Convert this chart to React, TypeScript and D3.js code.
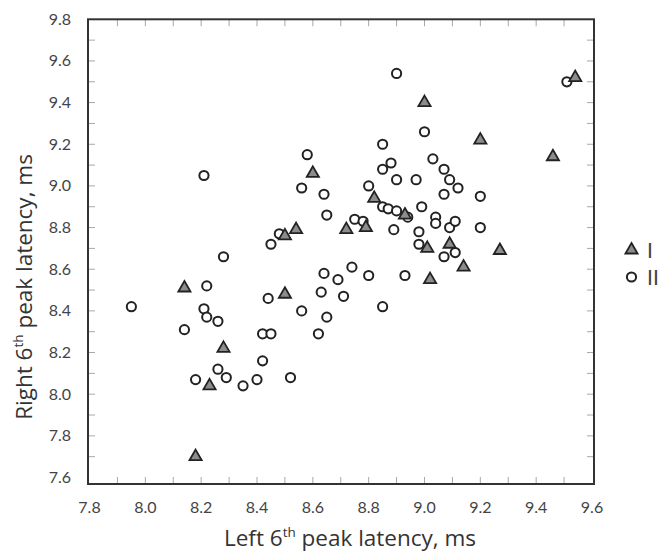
import React from "react";
import * as d3 from "d3";

const groupIX = [8.14, 8.28, 8.23, 8.18, 8.50, 8.50, 8.54, 8.60, 8.72, 8.79, 8.82, 8.93, 9.00, 9.01, 9.09, 9.02, 9.14, 9.27, 9.20, 9.46, 9.54];
const groupIY = [8.51, 8.22, 8.04, 7.70, 8.48, 8.76, 8.79, 9.06, 8.79, 8.80, 8.94, 8.86, 9.40, 8.70, 8.72, 8.55, 8.61, 8.69, 9.22, 9.14, 9.52];

const groupIIX = [7.95, 8.14, 8.22, 8.21, 8.22, 8.26, 8.26, 8.29, 8.18, 8.35, 8.40, 8.42, 8.42, 8.45, 8.44, 8.52, 8.56, 8.63, 8.62, 8.64, 8.65, 8.69, 8.74, 8.71, 8.80, 8.85, 8.93, 8.28, 8.45, 8.48, 8.21, 8.58, 8.56, 8.64, 8.65, 8.75, 8.78, 8.80, 8.85, 8.85, 8.88, 8.85, 8.87, 8.90, 8.90, 8.94, 8.89, 8.90, 8.97, 8.99, 9.00, 9.03, 9.07, 9.09, 9.12, 9.07, 9.20, 9.04, 9.04, 9.09, 9.11, 9.20, 8.98, 8.98, 9.11, 9.07, 9.51];
const groupIIY = [8.42, 8.31, 8.52, 8.41, 8.37, 8.35, 8.12, 8.08, 8.07, 8.04, 8.07, 8.16, 8.29, 8.29, 8.46, 8.08, 8.40, 8.49, 8.29, 8.58, 8.37, 8.55, 8.61, 8.47, 8.57, 8.42, 8.57, 8.66, 8.72, 8.77, 9.05, 9.15, 8.99, 8.96, 8.86, 8.84, 8.83, 9.00, 9.20, 9.08, 9.11, 8.90, 8.89, 8.88, 9.03, 8.85, 8.79, 9.54, 9.03, 8.90, 9.26, 9.13, 9.08, 9.03, 8.99, 8.96, 8.95, 8.85, 8.82, 8.80, 8.83, 8.80, 8.78, 8.72, 8.68, 8.66, 9.50];

const xTickLabels = ["7.8", "8.0", "8.2", "8.4", "8.6", "8.8", "9.0", "9.2", "9.4", "9.6"];
const yTickLabels = ["7.6", "7.8", "8.0", "8.2", "8.4", "8.6", "8.8", "9.0", "9.2", "9.4", "9.6", "9.8"];
const legendLabels = ["I", "II"];

const W = 659, H = 552;
const FONT = "Lato, 'Open Sans', sans-serif";
const TITLE_FONT = "'Open Sans', Lato, sans-serif";

export default function App() {
  const x = d3.scaleLinear().domain([7.8, 9.6]).range([89.5, 592]);
  const y = d3.scaleLinear().domain([7.6, 9.8]).range([477.5, 19.3]);
  const frame = { x0: 88, x1: 594, y0: 19.3, y1: 484 };

  const minorX = d3.range(79, 96).map((v) => v / 10);
  const minorY = d3.range(77, 98).map((v) => v / 10);

  const tri = d3.symbol().type(d3.symbolTriangle).size(64)();

  const ptsI = groupIX.map((v, i) => ({ x: v, y: groupIY[i] }));
  const ptsII = groupIIX.map((v, i) => ({ x: v, y: groupIIY[i] }));

  const tickColor = "#a8a8a8";
  const textColor = "#444";
  const markStroke = "#222";

  return (
    <svg width={W} height={H} style={{ position: "absolute", left: 0, top: 0, background: "#fff" }}>
      {minorX.map((v) => (
        <g key={"tx" + v}>
          <line x1={x(v)} x2={x(v)} y1={frame.y1} y2={frame.y1 - 7} stroke={tickColor} strokeWidth={1} />
          <line x1={x(v)} x2={x(v)} y1={frame.y0} y2={frame.y0 + 7} stroke={tickColor} strokeWidth={1} />
        </g>
      ))}
      {minorY.map((v) => (
        <g key={"ty" + v}>
          <line x1={frame.x0} x2={frame.x0 + 7} y1={y(v)} y2={y(v)} stroke={tickColor} strokeWidth={1} />
          <line x1={frame.x1} x2={frame.x1 - 7} y1={y(v)} y2={y(v)} stroke={tickColor} strokeWidth={1} />
        </g>
      ))}
      <rect x={frame.x0} y={frame.y0} width={frame.x1 - frame.x0} height={frame.y1 - frame.y0} fill="none" stroke="#333" strokeWidth={2} />

      {xTickLabels.map((t) => (
        <text key={"xl" + t} x={x(+t)} y={512.5} textAnchor="middle" fontFamily={FONT} fontSize={16} fill={textColor}>{t}</text>
      ))}
      {yTickLabels.map((t) => (
        <text key={"yl" + t} x={71} y={y(+t) + 5.5} textAnchor="end" fontFamily={FONT} fontSize={16} fill={textColor}>{t}</text>
      ))}

      <text x={350} y={546} textAnchor="middle" fontFamily={TITLE_FONT} fontSize={22.5} fill="#333">
        Left 6<tspan fontSize={13.5} dy={-9}>th</tspan><tspan dy={9}> peak latency, ms</tspan>
      </text>
      <text transform={`translate(32,287) rotate(-90)`} textAnchor="middle" fontFamily={TITLE_FONT} fontSize={22.5} fill="#333">
        Right 6<tspan fontSize={13.5} dy={-9}>th</tspan><tspan dy={9}> peak latency, ms</tspan>
      </text>

      {ptsII.map((p, i) => (
        <circle key={"c" + i} cx={x(p.x)} cy={y(p.y)} r={4.6} fill="#fff" stroke={markStroke} strokeWidth={2} />
      ))}
      {ptsI.map((p, i) => (
        <path key={"t" + i} d={tri} transform={`translate(${x(p.x)},${y(p.y)})`} fill="#8c8c8c" stroke={markStroke} strokeWidth={1.8} />
      ))}

      <path d={tri} transform="translate(631.5,250)" fill="#8c8c8c" stroke={markStroke} strokeWidth={1.8} />
      <text x={647} y={257.5} fontFamily={FONT} fontSize={21} fill={textColor}>{legendLabels[0]}</text>
      <circle cx={631.5} cy={277} r={4.6} fill="#fff" stroke={markStroke} strokeWidth={2} />
      <text x={647} y={284.5} fontFamily={FONT} fontSize={21} fill={textColor}>{legendLabels[1]}</text>
    </svg>
  );
}
